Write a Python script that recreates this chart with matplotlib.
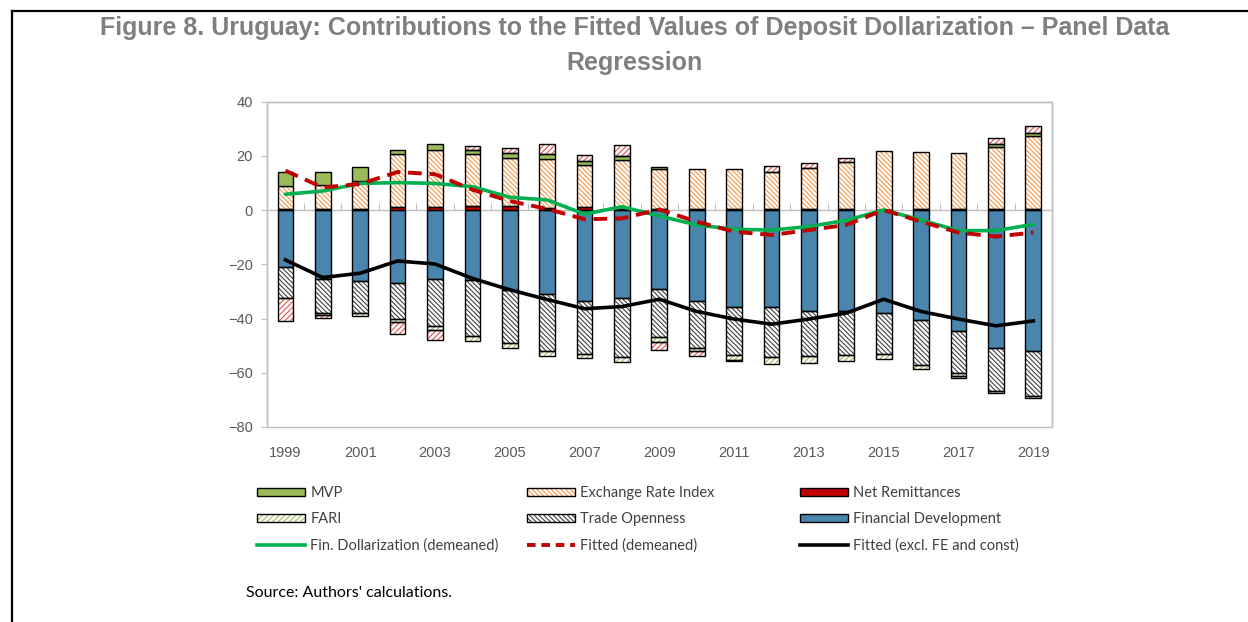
import numpy as np
import matplotlib.pyplot as plt
from matplotlib.patches import Patch
from matplotlib.lines import Line2D

# data (percentage points)
years = list(range(1999, 2020))

fin_development = [-21.1, -25.5, -26.0, -27.0, -25.5, -25.8, -29.4, -31.0, -33.4, -32.5, -29.2,
                   -33.4, -35.8, -35.9, -37.4, -37.3, -38.0, -40.7, -44.5, -50.7, -51.9]
net_remittances = [0.5, 0.3, 0.4, 1.0, 1.2, 1.5, 1.5, 0.6, 1.1, 0.5, 0.3,
                   0.3, 0.2, 0.3, 0.2, 0.2, 0.1, 0.2, 0.2, 0.2, 0.5]
exchange_rate = [8.3, 8.8, 10.4, 19.5, 21.1, 19.0, 17.5, 18.1, 15.5, 17.9, 14.7,
                 14.8, 14.8, 13.8, 15.1, 17.4, 21.6, 21.3, 20.9, 23.1, 26.9]
trade_openness = [-11.4, -12.5, -12.0, -13.2, -17.1, -20.8, -19.7, -21.1, -19.7, -21.8, -17.8,
                  -17.5, -17.8, -18.4, -16.6, -16.3, -15.1, -16.3, -15.6, -16.2, -16.6]
fari = [0.0, -0.6, -1.0, -1.0, -1.8, -1.7, -1.7, -1.6, -1.6, -1.7, -1.5,
        -1.2, -1.6, -2.5, -2.4, -2.2, -1.9, -1.6, -1.0, -0.6, -0.8]
mvp = [5.2, 4.8, 4.9, 1.8, 2.1, 1.8, 1.9, 1.8, 1.6, 1.5, 0.7,
       0.0, 0.0, 0.0, 0.0, 0.0, 0.0, 0.0, 0.0, 1.2, 1.1]
other = [-8.4, -1.3, 0.0, -4.4, -3.4, 1.3, 1.8, 3.7, 2.2, 4.0, -3.0,
         -1.9, -0.3, 2.2, 1.9, 1.7, 0.0, 0.0, -1.0, 2.1, 2.5]

fin_dollarization = [5.8, 7.0, 9.8, 10.1, 9.8, 8.6, 4.7, 3.7, -1.5, 1.2, -2.2,
                     -5.5, -7.1, -7.4, -6.1, -3.8, 0.0, -3.7, -7.6, -7.6, -5.3]
fitted_demeaned = [14.5, 8.3, 9.6, 14.0, 13.2, 7.5, 3.3, 0.4, -3.4, -3.1, 0.2,
                   -4.3, -8.0, -9.2, -7.4, -5.5, 0.0, -4.3, -8.3, -9.8, -8.3]
fitted_excl_fe = [-18.4, -24.9, -23.3, -18.8, -19.9, -25.2, -29.4, -33.0, -36.4, -35.6, -32.9,
                  -37.4, -40.2, -42.1, -40.2, -38.0, -32.9, -37.4, -40.2, -42.7, -40.9]

plt.rcParams["hatch.linewidth"] = 0.8
tick_font = "Liberation Sans"
label_font = "Lato"

fig = plt.figure(figsize=(12.48, 6.22), dpi=100)
ax = fig.add_axes([266.7 / 1248, 1 - 427 / 622, (1052 - 266.7) / 1248, (427 - 101.5) / 622])

x = np.arange(len(years))
width = 0.42

# stacking order: closest to zero first
series = [
    ("Financial Development", fin_development, "#4A85AD", None),
    ("Net Remittances", net_remittances, "#C00000", None),
    ("Exchange Rate Index", exchange_rate, "#F79646", "\\" * 7),
    ("Trade Openness", trade_openness, "#404040", "\\" * 7),
    ("FARI", fari, "#9BBB59", "/" * 6),
    ("MVP", mvp, "#9BBB59", None),
    (None, other, "#E8504F", "/" * 6),
]

pos_base = np.zeros(len(x))
neg_base = np.zeros(len(x))
handles = {}
for name, vals, color, hatch in series:
    v = np.array(vals)
    base = np.where(v >= 0, pos_base, neg_base)
    keep = v != 0
    if hatch:
        ax.bar(x[keep], v[keep], width, bottom=base[keep], color="white",
               edgecolor=color, hatch=hatch, linewidth=0, zorder=2)
        ax.bar(x[keep], v[keep], width, bottom=base[keep], color="none",
               edgecolor="black", linewidth=1.0, zorder=3)
        h = (Patch(facecolor="white", edgecolor=color, hatch=hatch, linewidth=0),
             Patch(facecolor="none", edgecolor="black", linewidth=1.0))
    else:
        ax.bar(x[keep], v[keep], width, bottom=base[keep], color=color,
               edgecolor="black", linewidth=1.0, zorder=3)
        h = Patch(facecolor=color, edgecolor="black", linewidth=1.0)
    if name:
        handles[name] = h
    pos_base += np.where(v > 0, v, 0)
    neg_base += np.where(v < 0, v, 0)

ax.plot(x, fin_dollarization, color="#00B050", lw=2.6, zorder=5, solid_capstyle="round")
ax.plot(x, fitted_demeaned, color="#C00000", lw=2.8, ls=(0, (3.5, 2)), zorder=6)
ax.plot(x, fitted_excl_fe, color="black", lw=2.6, zorder=5)

ax.set_xlim(-0.5, len(years) - 0.5)
ax.set_ylim(-80, 40)
ax.set_yticks(range(-80, 41, 20))

grey = "#BFBFBF"
for s in ["top", "right", "left"]:
    ax.spines[s].set_color(grey)
    ax.spines[s].set_linewidth(1)
ax.spines["bottom"].set_position(("data", 0))
ax.spines["bottom"].set_color(grey)
ax.spines["bottom"].set_linewidth(1)
ax.spines["bottom"].set_zorder(1.5)
ax.patch.set_edgecolor(grey)
ax.patch.set_linewidth(1)

ax.set_xticks(x[:-1] + 0.5)
ax.tick_params(axis="x", direction="in", length=5, color=grey, labelbottom=False)
ax.tick_params(axis="y", direction="out", length=4, color=grey, labelcolor="#595959",
               labelsize=10.5, pad=6)
for lab in ax.get_yticklabels():
    lab.set_family(tick_font)

sec = ax.secondary_xaxis(0)
sec.set_xticks(x[::2], [str(y) for y in years[::2]])
sec.tick_params(length=0, pad=14, labelcolor="#595959", labelsize=10.5)
sec.spines["bottom"].set_visible(False)
for lab in sec.get_xticklabels():
    lab.set_family(tick_font)

# legend in three columns like the original
line_handles = {
    "Fin. Dollarization (demeaned)": Line2D([], [], color="#00B050", lw=2.6),
    "Fitted (demeaned)": Line2D([], [], color="#C00000", lw=2.8, ls=(0, (2.2, 1.5))),
    "Fitted (excl. FE and const)": Line2D([], [], color="black", lw=2.6),
}
handles.update(line_handles)
columns = [
    (257, ["MVP", "FARI", "Fin. Dollarization (demeaned)"]),
    (527, ["Exchange Rate Index", "Trade Openness", "Fitted (demeaned)"]),
    (800, ["Net Remittances", "Financial Development", "Fitted (excl. FE and const)"]),
]
for xpix, names in columns:
    fig.legend([handles[n] for n in names], names, loc="upper left",
               bbox_to_anchor=(xpix / 1248, 1 - 486 / 622), frameon=False,
               borderpad=0, borderaxespad=0, handlelength=3.3, handleheight=0.5,
               handletextpad=0.35, labelspacing=0.82,
               prop={"family": label_font, "size": 10.5}, labelcolor="#404040")

fig.text(634.5 / 1248, 1 - 28 / 622,
         "Figure 8. Uruguay: Contributions to the Fitted Values of Deposit Dollarization \u2013 Panel Data",
         ha="center", va="center", fontsize=18, fontweight="bold", color="#7F7F7F",
         family="Liberation Sans")
fig.text(634.5 / 1248, 1 - 63 / 622, "Regression", ha="center", va="center",
         fontsize=18, fontweight="bold", color="#7F7F7F", family="Liberation Sans")
fig.text(246 / 1248, 1 - 593 / 622, "Source: Authors' calculations.", ha="left", va="center",
         fontsize=11.5, family=label_font, color="black")

# page frame (left and top edges)
fig.add_artist(Line2D([12 / 1248, 12 / 1248], [0, 1 - 11 / 622], color="black", lw=1.6))
fig.add_artist(Line2D([12 / 1248, 1], [1 - 11 / 622, 1 - 11 / 622], color="black", lw=1.6))

fig.savefig("out.png", dpi=100)
